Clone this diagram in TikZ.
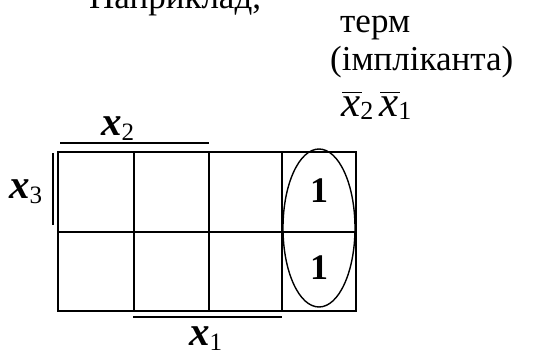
\documentclass[tikz,border=0pt]{standalone}
\usepackage{fontspec}
\setmainfont{Liberation Serif}
\usepackage{tikz}
\newcommand\bigtext{\fontsize{35}{38}\selectfont}
\newcommand\varx[1]{{\fontsize{41}{41}\selectfont\bfseries\itshape x}\raisebox{-5pt}{\fontsize{25}{25}\selectfont #1}}
\newcommand\barx[1]{{\fontsize{43}{43}\selectfont\itshape\makebox[0pt][l]{\kern1pt\rule[23pt]{20pt}{1.3pt}}x}\raisebox{-3pt}{\fontsize{26}{26}\selectfont #1}}

\begin{document}
\begin{tikzpicture}[x=1pt, y=-1pt, every node/.style={font=\bigtext, inner sep=0pt}]
  \useasboundingbox (0,0) rectangle (536,351);
  % text above
  \node[anchor=base west] (intro) at (89,8) {Наприклад,};
  \node[anchor=base west] (term) at (340,32) {терм};
  \node[anchor=base west] (impl) at (330,70) {(імпліканта)};
  \node[anchor=base west] (prod) at (341,116) {\barx{2}\kern6pt\barx{1}};
  % map
  \draw[line width=1.6pt] (58,152) rectangle (356,311);
  \foreach \cx in {134,209,282}
    \draw[line width=1.6pt] (\cx,152) -- (\cx,311);
  \draw[line width=1.6pt] (58,232) -- (356,232);
  % variable bars
  \coordinate (a2) at (60,143);  \coordinate (b2) at (209,143);
  \coordinate (a1) at (133,317); \coordinate (b1) at (282,317);
  \coordinate (a3) at (53,153);  \coordinate (b3) at (53,225);
  \draw[line width=1.6pt] (a2) -- (b2);
  \draw[line width=1.6pt] (a1) -- (b1);
  \draw[line width=1.6pt] (a3) -- (b3);
  \node[anchor=base west] (lx2) at (101,135) {\varx{2}};
  \node[anchor=base west] (lx1) at (189,345) {\varx{1}};
  \node[anchor=base west] (lx3) at (9,198) {\varx{3}};
  % ones and the implicant
  \node[font=\fontsize{36}{36}\selectfont\bfseries] (one1) at (319,191) {1};
  \node[font=\fontsize{36}{36}\selectfont\bfseries] (one2) at (319,268) {1};
  \draw[line width=1.4pt] (319,228) ellipse [x radius=36pt, y radius=79pt];
\end{tikzpicture}
\end{document}
